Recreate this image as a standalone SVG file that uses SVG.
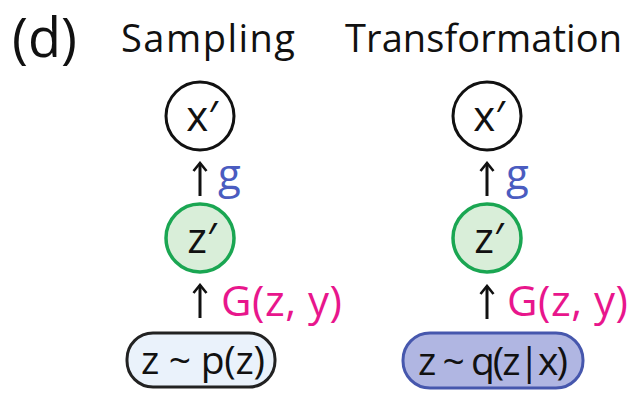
<svg xmlns="http://www.w3.org/2000/svg" width="636" height="394" viewBox="0 0 636 394">
<defs>
<style>
text{font-family:"Open Sans","Noto Sans","Liberation Sans",sans-serif;}
.t{fill:#111;font-size:38px;}
.n{fill:#111;font-size:42px;text-anchor:middle;}
.c{fill:#fff;stroke:#111;stroke-width:3;}
.zc{fill:#d9eed9;stroke:#1aa652;stroke-width:3.5;}
.g{fill:#4a5cc0;font-size:42px;}
.G{fill:#e8168c;font-size:42px;}
.e{stroke:#111;stroke-width:3;fill:none;}
</style>
<marker id="ah" viewBox="0 0 12 16" refX="10" refY="8" markerWidth="12" markerHeight="16" markerUnits="userSpaceOnUse" orient="auto">
<path d="M2,1.5 L10,8 L2,14.5" fill="none" stroke="#111" stroke-width="2.6"/>
</marker>
</defs>
<rect width="636" height="394" fill="#fff"/>
<text x="12" y="57" style="font-size:54px;fill:#111">(d)</text>
<text class="t" x="121" y="52" textLength="174" lengthAdjust="spacing">Sampling</text>
<text class="t" x="345" y="52" textLength="277" lengthAdjust="spacing">Transformation</text>

<g id="connectors">
<line class="e" x1="200" y1="196" x2="200" y2="163" marker-end="url(#ah)"/>
<line class="e" x1="200" y1="318" x2="200" y2="285" marker-end="url(#ah)"/>
<line class="e" x1="487" y1="196" x2="487" y2="163" marker-end="url(#ah)"/>
<line class="e" x1="487" y1="319" x2="487" y2="286" marker-end="url(#ah)"/>
<text class="g" x="218" y="189">g</text>
<text class="G" x="221" y="316" textLength="121" lengthAdjust="spacing">G(z, y)</text>
<text class="g" x="506" y="189">g</text>
<text class="G" x="507" y="316" textLength="121" lengthAdjust="spacing">G(z, y)</text>
</g>

<g id="xs">
<circle class="c" cx="200" cy="116" r="34"/>
<text class="n" x="202" y="131">x′</text>
</g>
<g id="zs">
<circle class="zc" cx="200" cy="238" r="34"/>
<text class="n" x="202" y="253">z′</text>
</g>
<g id="ps">
<rect x="127" y="333" width="148" height="54" rx="26" fill="#eaf2fb" stroke="#222" stroke-width="3"/>
<text class="n" x="203" y="374" style="font-size:39px" textLength="124" lengthAdjust="spacing">z ~ p(z)</text>
</g>

<g id="xt">
<circle class="c" cx="487" cy="116" r="34"/>
<text class="n" x="489" y="131">x′</text>
</g>
<g id="zt">
<circle class="zc" cx="487" cy="238" r="34"/>
<text class="n" x="489" y="253">z′</text>
</g>
<g id="qt">
<rect x="403" y="333" width="180" height="55" rx="27" fill="#b0b6e2" stroke="#4657ad" stroke-width="3"/>
<text class="n" x="493" y="375" style="font-size:39px" textLength="150" lengthAdjust="spacing">z ~ q(z|x)</text>
</g>
</svg>
